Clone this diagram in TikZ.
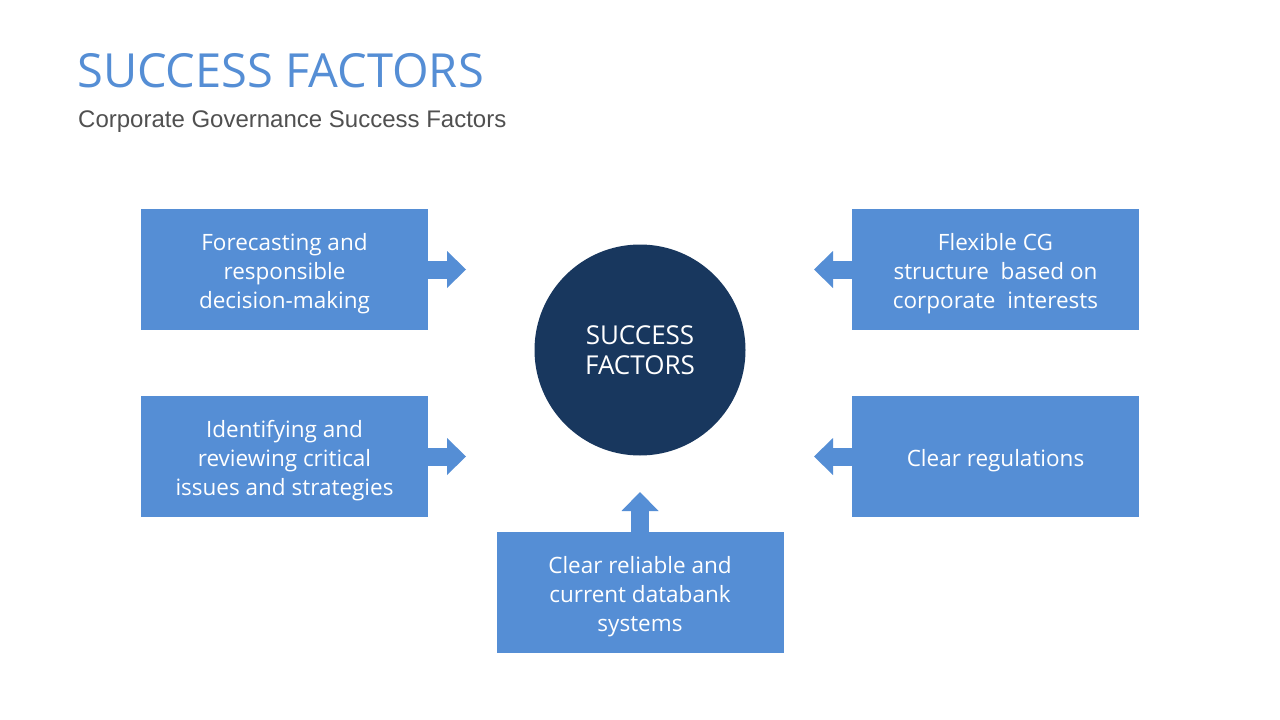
\documentclass[tikz,border=0pt]{standalone}
\usepackage{fontspec}
\setmainfont{Open Sans}
\newfontfamily\subfont{Liberation Sans}
\usetikzlibrary{arrows.meta}
\definecolor{boxblue}{RGB}{85,142,213}
\definecolor{navy}{RGB}{24,55,94}
\definecolor{subgray}{RGB}{80,80,80}
\tikzset{
  factor/.style={fill=boxblue, minimum width=287pt, minimum height=121pt, inner sep=0pt,
    label={[factortext]center:{#1}}},
  factortext/.style={text=white, align=center, yshift=-4pt, font=\fontsize{22.5}{29}\selectfont},
  push/.style={draw=boxblue, line width=18pt,
    -{Triangle[width=37pt, length=19pt, line width=0pt, fill=boxblue]}}
}
\begin{document}
\begin{tikzpicture}[x=1pt, y=-1pt]
            \useasboundingbox[fill=white] (0,0) rectangle (1280,720);

            % Title and subtitle
            \node[anchor=base west, inner sep=0pt, text=boxblue, font=\fontsize{47}{55}\selectfont] (title) at (77,87) {SUCCESS FACTORS};
            \node[anchor=base west, inner sep=0pt, text=subgray, font=\subfont\fontsize{24}{28}\selectfont] (subtitle) at (78,127) {Corporate Governance Success Factors};

            % Centre circle
            \node[circle, fill=navy, minimum size=211pt, inner sep=0pt, text=white, align=center, font=\fontsize{26}{30.5}\selectfont] (core) at (640,350) {SUCCESS\\FACTORS};

            % Factor boxes
            \node[factor={Forecasting and\\responsible\\decision-making}] (forecast) at (284.5,269.5) {};
            \node[factor={Identifying and\\reviewing critical\\issues and strategies}] (issues) at (284.5,456.5) {};
            \node[factor={Flexible CG\\structure\ \ based on\\corporate\ \ interests}] (flexible) at (995.5,269.5) {};
            \node[factor={Clear regulations}] (rules) at (995.5,456.5) {};
            \node[factor={Clear reliable and\\current databank\\systems}] (databank) at (640,592.5) {};

            % Arrow tips
            \coordinate (forecastTip) at (466,269.5);
            \coordinate (issuesTip) at (466,456.5);
            \coordinate (flexibleTip) at (814,269.5);
            \coordinate (rulesTip) at (814,456.5);
            \coordinate (databankTip) at (640,492);

            % Draw the arrows
            \draw[push] (forecast.east) -- (forecastTip);
            \draw[push] (issues.east) -- (issuesTip);
            \draw[push] (flexible.west) -- (flexibleTip);
            \draw[push] (rules.west) -- (rulesTip);
            \draw[push] (databank.north) -- (databankTip);
        \end{tikzpicture}
\end{document}
